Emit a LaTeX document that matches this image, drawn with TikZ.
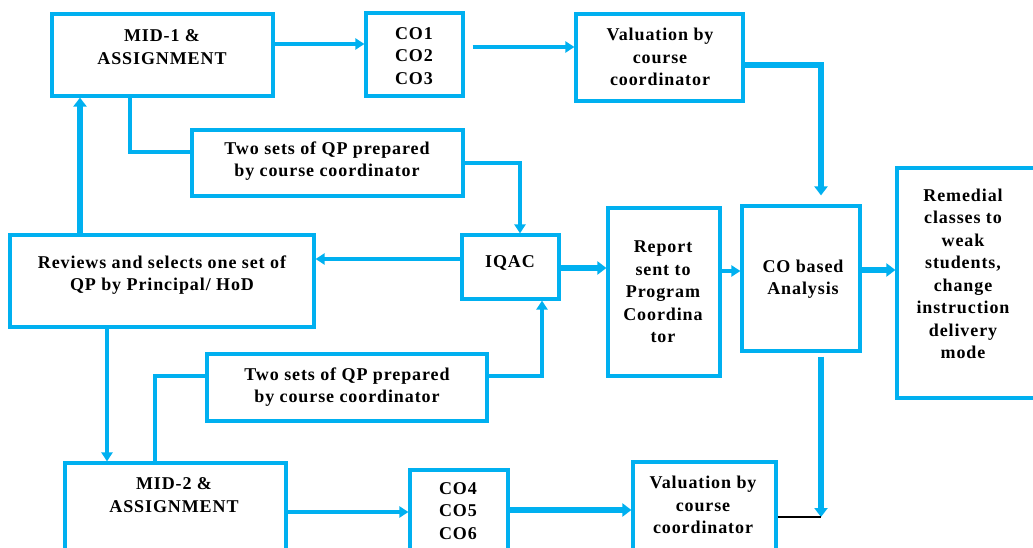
\documentclass[tikz,border=0pt]{standalone}
\usepackage{fontspec}
\setmainfont[LetterSpace=5]{Liberation Serif}
\usetikzlibrary{arrows.meta}
\definecolor{cy}{RGB}{0,176,240}
\begin{document}
\begin{tikzpicture}[x=1pt,y=-1pt,
  box/.style={draw=cy,line width=3.2pt,rectangle,inner sep=0pt,fill=white},
  txt/.style={align=center,inner sep=0pt,font=\bfseries\fontsize{18}{22.5}\selectfont},
  conn/.style={draw=cy,line width=3.4pt},
  arr/.style={conn,-{Triangle[length=9pt,width=11pt]}},
  arrthick/.style={draw=cy,line width=5.2pt,-{Triangle[length=9pt,width=13pt]}}]
\useasboundingbox (0,0) rectangle (1033,548);

% boxes
\node[box,minimum width=221,minimum height=82] (mid1) at (162.5,55) {};
\node[box,minimum width=97,minimum height=83] (co13) at (414.5,54.5) {};
\node[box,minimum width=167,minimum height=87] (val1) at (659.5,57.5) {};
\node[box,minimum width=271,minimum height=66] (two1) at (327.5,163) {};
\node[box,minimum width=304,minimum height=92] (rev) at (162,281) {};
\node[box,minimum width=97,minimum height=64] (iqac) at (510.5,267) {};
\node[box,minimum width=112,minimum height=168] (rep) at (664,292) {};
\node[box,minimum width=118,minimum height=145] (cob) at (801,278.5) {};
\node[box,minimum width=146,minimum height=230] (rem) at (970,283) {};
\node[box,minimum width=280,minimum height=67] (two2) at (347,387.5) {};
\node[box,minimum width=221,minimum height=97] (mid2) at (175.5,511.5) {};
\node[box,minimum width=98,minimum height=90] (co46) at (459,515) {};
\node[box,minimum width=143,minimum height=98] (val2) at (704.5,511) {};

% texts
\node[txt] (mid1t) at (162,47) {MID-1 \&\\ASSIGNMENT};
\node[txt] (co13t) at (414,56) {CO1\\CO2\\CO3};
\node[txt] (val1t) at (660,57) {Valuation by\\course\\coordinator};
\node[txt] (two1t) at (327,161) {Two sets of QP prepared\\by course coordinator};
\node[txt] (revt) at (162,275) {Reviews and selects one set of\\QP by Principal/ HoD};
\node[txt] (iqact) at (510,263) {IQAC};
\node[txt] (rept) at (663,292) {Report\\sent to\\Program\\Coordina\\tor};
\node[txt] (cobt) at (803,279) {CO based\\Analysis};
\node[txt] (remt) at (963,274) {Remedial\\classes to\\weak\\students,\\change\\instruction\\delivery\\mode};
\node[txt] (two2t) at (347,387) {Two sets of QP prepared\\by course coordinator};
\node[txt] (mid2t) at (174,495) {MID-2 \&\\ASSIGNMENT};
\node[txt] (co46t) at (458,511) {CO4\\CO5\\CO6};
\node[txt] (val2t) at (703,505) {Valuation by\\course\\coordinator};

% connectors
\draw[arr] (mid1.east |- 0,44) -- (co13.west |- 0,44);
\draw[arr] ([xshift=8pt]co13.east |- 0,47) -- (val1.west |- 0,47);
\draw[arrthick,shorten >=9pt] (val1.east |- 0,65) -| (cob.north -| 821,0);
\draw[conn] (mid1.south -| 130,0) |- (two1.west |- 0,152);
\draw[arr] (two1.east) -| (iqac.north -| 520,0);
\draw[arr] (iqac.west |- 0,259) -- (rev.east |- 0,259);
\draw[arrthick] (rev.north -| 80,0) -- (mid1.south -| 80,0);
\draw[arr] (rev.south -| 107,0) -- (mid2.north -| 107,0);
\draw[conn] (mid2.north -| 155,0) |- (two2.west |- 0,376);
\draw[arr] (two2.east |- 0,376) -| (iqac.south -| 542,0);
\draw[arrthick] (iqac.east |- 0,268) -- (rep.west |- 0,268);
\draw[arr] (rep.east |- 0,271) -- (cob.west |- 0,271);
\draw[arrthick] (cob.east |- 0,270) -- (rem.west |- 0,270);
\coordinate (mj) at (821,517);
\draw[arrthick] ([yshift=-4pt]cob.south -| mj) -- (mj);
\draw[black,line width=1.2pt] (val2.east |- mj) -- (mj);
\draw[arr] (mid2.east |- 0,512) -- (co46.west |- 0,512);
\draw[arrthick] (co46.east |- 0,510) -- (val2.west |- 0,510);
\end{tikzpicture}
\end{document}
